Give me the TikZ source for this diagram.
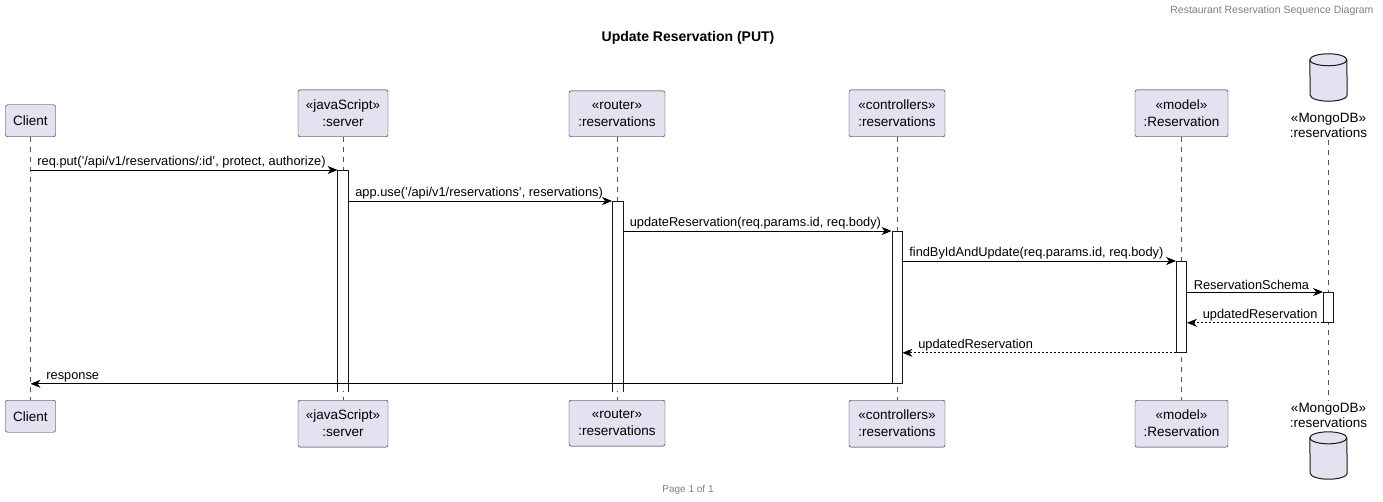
\documentclass[tikz,border=0pt]{standalone}
\usepackage{fontspec}
\setmainfont{Liberation Sans}
\usetikzlibrary{arrows.meta}
\definecolor{boxfill}{HTML}{E2E2F0}
\definecolor{boxline}{HTML}{181818}
\definecolor{lifegray}{HTML}{555555}

\begin{document}
\begin{tikzpicture}[x=1pt, y=-1pt,
  pbox/.style={draw=boxline, fill=boxfill, rounded corners=2pt, align=center, inner xsep=6pt, inner ysep=10pt, minimum height=32pt, font=\fontsize{13.5}{17}\selectfont},
  dbbox/.style={minimum width=37pt, minimum height=47pt, inner sep=0pt},
  dbline/.style={draw=boxline, fill=boxfill, line width=1pt},
  dblabel/.style={align=center, inner sep=2pt, font=\fontsize{13.5}{15}\selectfont},
  life/.style={lifegray, line width=0.6pt, dash pattern=on 5pt off 5pt},
  act/.style={draw=boxline, fill=white, line width=0.8pt, minimum width=10pt, inner sep=0pt, anchor=north},
  actopen/.style={act, draw=none},
  msg/.style={line width=0.9pt, -{Stealth[length=10pt, width=8pt, inset=3pt]}},
  ret/.style={msg, dash pattern=on 2pt off 2pt},
  lbl/.style={font=\fontsize{12.8}{15}\selectfont, inner sep=1.5pt}]
\useasboundingbox (0,0) rectangle (1383,502);

\node[anchor=east, text=gray, font=\fontsize{10.5}{12}\selectfont] (header) at (1377,11) {Restaurant Reservation Sequence Diagram};
\node[font=\bfseries\fontsize{14}{16}\selectfont] (title) at (688,38) {Update Reservation (PUT)};
\node[text=gray, font=\fontsize{10}{12}\selectfont] (footer) at (688,490) {Page 1 of 1};

\node[pbox, anchor=south, minimum width=50pt] (client) at (30.5,137) {Client};
\node[pbox, anchor=south, minimum width=90pt] (server) at (343,137) {«javaScript»\\:server};
\node[pbox, anchor=south, minimum width=96pt] (router) at (617,137) {«router»\\:reservations};
\node[pbox, anchor=south, minimum width=96pt] (ctrl) at (897,137) {«controllers»\\:reservations};
\node[pbox, anchor=south, minimum width=93pt] (model) at (1181.5,137) {«model»\\:Reservation};
\node[dblabel, anchor=south] (mongo) at (1328.5,140) {«MongoDB»\\:reservations};
\node[dbbox, anchor=south] (dbTop) at ([yshift=10pt]mongo.north) {};

\node[pbox, anchor=north, minimum width=50pt] (clientB) at (30.5,400) {Client};
\node[pbox, anchor=north, minimum width=90pt] (serverB) at (343,400) {«javaScript»\\:server};
\node[pbox, anchor=north, minimum width=96pt] (routerB) at (617,400) {«router»\\:reservations};
\node[pbox, anchor=north, minimum width=96pt] (ctrlB) at (897,400) {«controllers»\\:reservations};
\node[pbox, anchor=north, minimum width=93pt] (modelB) at (1181.5,400) {«model»\\:Reservation};
\node[dblabel, anchor=north] (mongoB) at (1328.5,401) {«MongoDB»\\:reservations};
\node[dbbox, anchor=north] (dbBot) at ([yshift=-2pt]mongoB.south) {};

\foreach \db in {dbTop, dbBot} {
  \filldraw[dbline] ([yshift=-6pt]\db.north west) arc[start angle=180, end angle=0, x radius=18.5pt, y radius=6pt]
    -- ([yshift=6pt]\db.south east) arc[start angle=0, end angle=-180, x radius=18.5pt, y radius=6pt] -- cycle;
  \draw[boxline, line width=1pt] ([yshift=-6pt]\db.north west) arc[start angle=180, end angle=360, x radius=18.5pt, y radius=6pt];
}

\draw[life] (client) -- (clientB);
\draw[life] (server) -- (serverB);
\draw[life] (router) -- (routerB);
\draw[life] (ctrl) -- (ctrlB);
\draw[life] (model) -- (modelB);
\draw[life] (mongo) -- (mongoB);

\node[actopen, minimum height=221pt] (aServer) at (343,170) {};
\node[actopen, minimum height=190pt] (aRouter) at (617.5,201) {};
\draw[boxline, line width=0.8pt] (aServer.south west) -- (aServer.north west) -- (aServer.north east) -- (aServer.south east);
\draw[boxline, line width=0.8pt] (aRouter.south west) -- (aRouter.north west) -- (aRouter.north east) -- (aRouter.south east);
\node[act, minimum height=152pt] (aCtrl) at (897,231) {};
\node[act, minimum height=91pt] (aModel) at (1181.5,261) {};
\node[act, minimum height=30pt] (aMongo) at (1328.5,292) {};

\draw[msg] (client.south |- aServer.north) -- node[lbl, pos=0, above right, xshift=5pt] {req.put('/api/v1/reservations/:id', protect, authorize)} (aServer.north west);
\draw[msg] (aServer.east |- aRouter.north) -- node[lbl, pos=0, above right, xshift=5pt] {app.use('/api/v1/reservations', reservations)} (aRouter.north west);
\draw[msg] (aRouter.east |- aCtrl.north) -- node[lbl, pos=0, above right, xshift=5pt] {updateReservation(req.params.id, req.body)} (aCtrl.north west);
\draw[msg] (aCtrl.east |- aModel.north) -- node[lbl, pos=0, above right, xshift=5pt] {findByIdAndUpdate(req.params.id, req.body)} (aModel.north west);
\draw[msg] (aModel.east |- aMongo.north) -- node[lbl, pos=0, above right, xshift=5pt] {ReservationSchema} (aMongo.north west);
\draw[ret] (aMongo.south west) -- node[lbl, pos=1, above right, xshift=14pt] {updatedReservation} (aModel.east |- aMongo.south);
\draw[ret] (aModel.south west) -- node[lbl, pos=1, above right, xshift=14pt] {updatedReservation} (aCtrl.east |- aModel.south);
\draw[msg] (aCtrl.south west) -- node[lbl, pos=1, above right, xshift=14pt] {response} (client.south |- aCtrl.south);
\end{tikzpicture}
\end{document}
